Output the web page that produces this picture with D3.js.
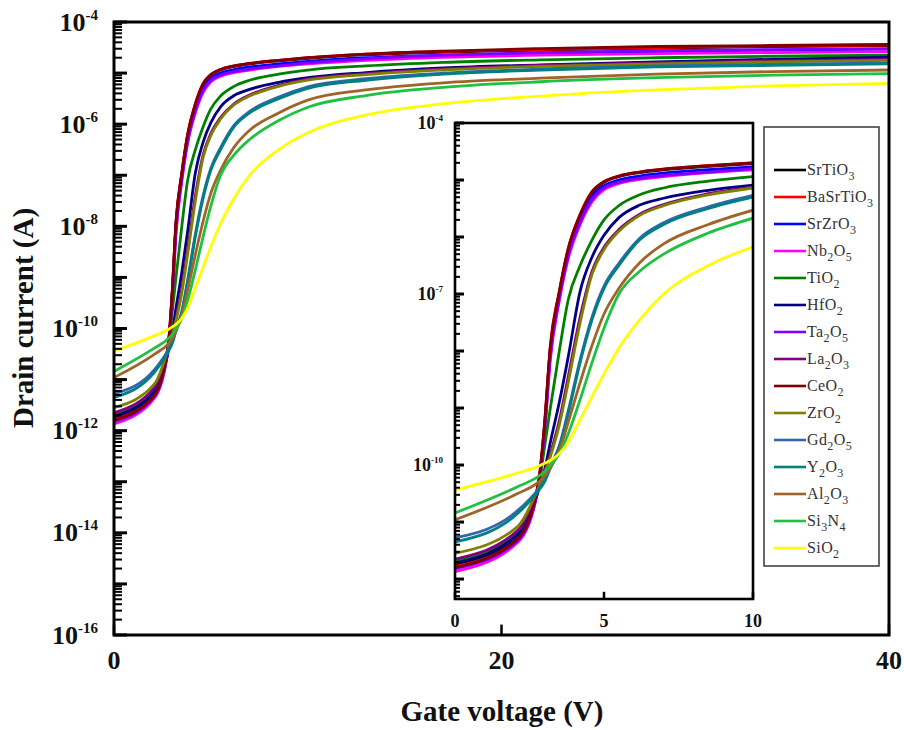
<!DOCTYPE html>
<html>
<head>
<meta charset="utf-8">
<script src="https://cdn.jsdelivr.net/npm/d3@7"></script>
<style>
  body { margin: 0; background: #fff; }
  svg { display: block; }
</style>
</head>
<body>
<svg id="chart" width="904" height="730"></svg>
<script>
// gate voltage (V) at which the curves were read
const gateV = [0, 2.1, 2.8, 3.0, 3.2, 3.5, 3.8, 4.2, 4.6, 5.0, 5.5, 6.2, 7, 8.5, 10, 13, 17, 22, 28, 34, 40];

// log10 of drain current (A), one list per gate dielectric
const SrTiO3   = [-11.75, -11.28, -10.35, -9.35, -7.95, -6.98, -6.22, -5.62, -5.22, -5.04, -4.94, -4.87, -4.82, -4.76, -4.71, -4.64, -4.59, -4.55, -4.51, -4.48, -4.46];
const BaSrTiO3 = [-11.78, -11.30, -10.30, -9.30, -7.90, -6.95, -6.20, -5.60, -5.20, -5.03, -4.93, -4.86, -4.81, -4.75, -4.70, -4.63, -4.58, -4.54, -4.50, -4.47, -4.45];
const SrZrO3   = [-11.80, -11.30, -10.35, -9.40, -8.00, -7.02, -6.28, -5.68, -5.28, -5.10, -5.00, -4.93, -4.88, -4.82, -4.77, -4.70, -4.65, -4.61, -4.58, -4.55, -4.53];
const Nb2O5    = [-11.87, -11.36, -10.40, -9.50, -8.15, -7.12, -6.38, -5.78, -5.38, -5.17, -5.06, -4.99, -4.94, -4.87, -4.82, -4.75, -4.69, -4.65, -4.62, -4.60, -4.58];
const TiO2     = [-11.68, -11.20, -10.40, -9.70, -9.00, -8.00, -7.10, -6.50, -6.05, -5.70, -5.45, -5.26, -5.14, -5.02, -4.94, -4.86, -4.79, -4.74, -4.70, -4.67, -4.65];
const HfO2     = [-11.72, -11.22, -10.45, -10.10, -9.60, -8.90, -8.10, -6.95, -6.35, -5.97, -5.66, -5.44, -5.32, -5.18, -5.09, -4.99, -4.90, -4.84, -4.78, -4.73, -4.69];
const Ta2O5    = [-11.82, -11.33, -10.38, -9.45, -8.08, -7.08, -6.33, -5.74, -5.34, -5.14, -5.04, -4.97, -4.92, -4.86, -4.80, -4.72, -4.65, -4.60, -4.56, -4.54, -4.52];
const La2O3    = [-11.65, -11.15, -10.40, -10.12, -9.80, -9.22, -8.45, -7.40, -6.60, -6.18, -5.87, -5.60, -5.43, -5.24, -5.12, -5.01, -4.92, -4.85, -4.80, -4.76, -4.73];
const CeO2     = [-11.80, -11.30, -10.32, -9.32, -7.93, -6.97, -6.21, -5.61, -5.21, -5.03, -4.93, -4.86, -4.81, -4.75, -4.70, -4.63, -4.57, -4.52, -4.48, -4.46, -4.44];
const ZrO2     = [-11.55, -11.08, -10.40, -10.15, -9.85, -9.30, -8.55, -7.50, -6.65, -6.22, -5.90, -5.62, -5.45, -5.26, -5.14, -5.03, -4.94, -4.87, -4.82, -4.78, -4.75];
const Gd2O5    = [-11.28, -10.80, -10.42, -10.27, -10.02, -9.66, -9.05, -8.15, -7.40, -6.86, -6.46, -6.02, -5.75, -5.47, -5.27, -5.11, -5.00, -4.92, -4.86, -4.83, -4.80];
const Y2O3     = [-11.35, -10.85, -10.45, -10.30, -10.05, -9.70, -9.10, -8.20, -7.45, -6.90, -6.50, -6.05, -5.78, -5.50, -5.30, -5.14, -5.02, -4.94, -4.88, -4.85, -4.82];
const Al2O3    = [-10.96, -10.50, -10.30, -10.20, -10.05, -9.75, -9.25, -8.55, -7.90, -7.35, -6.90, -6.45, -6.12, -5.78, -5.53, -5.33, -5.19, -5.10, -5.02, -4.97, -4.94];
const Si3N4    = [-10.84, -10.38, -10.20, -10.12, -10.00, -9.80, -9.45, -8.85, -8.20, -7.60, -7.00, -6.60, -6.30, -5.93, -5.67, -5.44, -5.28, -5.17, -5.09, -5.04, -5.01];
const SiO2     = [-10.44, -10.14, -10.02, -9.97, -9.92, -9.80, -9.60, -9.20, -8.80, -8.40, -7.95, -7.45, -7.00, -6.50, -6.17, -5.82, -5.60, -5.45, -5.33, -5.25, -5.20];

const materials = ['SrTiO3', 'BaSrTiO3', 'SrZrO3', 'Nb2O5', 'TiO2', 'HfO2', 'Ta2O5', 'La2O3',
                   'CeO2', 'ZrO2', 'Gd2O5', 'Y2O3', 'Al2O3', 'Si3N4', 'SiO2'];
const seriesLog = [SrTiO3, BaSrTiO3, SrZrO3, Nb2O5, TiO2, HfO2, Ta2O5, La2O3,
                   CeO2, ZrO2, Gd2O5, Y2O3, Al2O3, Si3N4, SiO2];
const colors = ['#000000', '#ff0000', '#0000ff', '#ff00ff', '#008000', '#000080', '#8000ff', '#800080',
                '#800000', '#808000', '#3565ad', '#008080', '#a0642a', '#20c040', '#ffff00'];

// tick labels
const mainXTicks = [0, 20, 40];
const mainYLabelExp = [-4, -6, -8, -10, -12, -14, -16];
const insetXTicks = [0, 5, 10];
const insetYLabelExp = [-4, -7, -10];

const series = materials.map((name, i) => ({
  name: name,
  color: colors[i],
  values: gateV.map((v, j) => ({ v: v, i: Math.pow(10, seriesLog[i][j]) }))
}));

const svg = d3.select('#chart');
const serif = '"Liberation Serif", "Times New Roman", Times, serif';

// decade and 2..9 sub-decade tick values inside the log domain
function logTicks(y) {
  const [lo, hi] = y.domain();
  const e0 = Math.round(Math.log10(lo)) - 1, e1 = Math.round(Math.log10(hi));
  const major = [], minor = [];
  for (let e = e0; e <= e1; e++) {
    for (let k = 1; k <= 9; k++) {
      const val = k * Math.pow(10, e);
      if (val < lo * 0.999 || val > hi * 1.001) continue;
      if (k === 1) major.push(val);
      else minor.push(val);
    }
  }
  return { major: major, minor: minor };
}

function powLabel(g, xPos, yPos, exp, size, supSize, supDy) {
  const t = g.append('text')
    .attr('x', xPos).attr('y', yPos)
    .attr('text-anchor', 'end')
    .attr('font-family', serif)
    .attr('font-weight', 'bold')
    .attr('font-size', size)
    .attr('fill', '#111');
  t.append('tspan').text('10');
  t.append('tspan').attr('dy', -supDy).attr('font-size', supSize).text(exp);
}

function drawPanel(opt) {
  const x = d3.scaleLinear().domain(opt.xDomain).range([opt.left, opt.right]);
  const y = d3.scaleLog().domain(opt.yDomain).range([opt.bottom, opt.top]);
  const g = svg.append('g');

  g.append('rect')
    .attr('x', opt.left).attr('y', opt.top)
    .attr('width', opt.right - opt.left).attr('height', opt.bottom - opt.top)
    .attr('fill', '#fff');

  const clipId = 'clip-' + opt.id;
  g.append('clipPath').attr('id', clipId)
    .append('rect')
    .attr('x', opt.left).attr('y', opt.top)
    .attr('width', opt.right - opt.left).attr('height', opt.bottom - opt.top);

  const line = d3.line()
    .x(d => x(d.v))
    .y(d => y(d.i))
    .curve(d3.curveMonotoneX);

  g.append('g').attr('clip-path', `url(#${clipId})`)
    .selectAll('path')
    .data(series)
    .join('path')
    .attr('d', d => line(d.values.filter((p, j, a) => p.v <= opt.xDomain[1] || (j > 0 && a[j - 1].v < opt.xDomain[1]))))
    .attr('fill', 'none')
    .attr('stroke', d => d.color)
    .attr('stroke-width', opt.lineW)
    .attr('stroke-linejoin', 'round');

  const t = logTicks(y);
  const ticks = g.append('g').attr('stroke', '#000');
  ticks.selectAll('line.minor')
    .data(t.minor)
    .join('line')
    .attr('class', 'minor')
    .attr('x1', opt.left).attr('x2', opt.left + opt.minorLen)
    .attr('y1', d => y(d)).attr('y2', d => y(d))
    .attr('stroke-width', 2);
  ticks.selectAll('line.major')
    .data(t.major)
    .join('line')
    .attr('class', 'major')
    .attr('x1', opt.left).attr('x2', opt.left + opt.majorLen)
    .attr('y1', d => y(d)).attr('y2', d => y(d))
    .attr('stroke-width', 3);
  ticks.selectAll('line.xt')
    .data(opt.xTicks)
    .join('line')
    .attr('class', 'xt')
    .attr('x1', d => x(d)).attr('x2', d => x(d))
    .attr('y1', opt.bottom).attr('y2', opt.bottom - opt.majorLen * 0.8)
    .attr('stroke-width', 2.5);

  g.append('rect')
    .attr('x', opt.left).attr('y', opt.top)
    .attr('width', opt.right - opt.left).attr('height', opt.bottom - opt.top)
    .attr('fill', 'none')
    .attr('stroke', '#000')
    .attr('stroke-width', opt.frameW);

  g.selectAll('text.xl')
    .data(opt.xTicks)
    .join('text')
    .attr('class', 'xl')
    .attr('x', d => x(d))
    .attr('y', opt.bottom + opt.xLabelDy)
    .attr('text-anchor', 'middle')
    .attr('font-family', serif)
    .attr('font-weight', 'bold')
    .attr('font-size', opt.labelSize)
    .attr('fill', '#111')
    .text(d => d);

  opt.yLabels.forEach(e => {
    powLabel(g, opt.left - opt.yLabelGap, y(Math.pow(10, e)) + opt.labelSize * 0.33,
             String(e), opt.labelSize, opt.supSize, opt.supDy);
  });
  return g;
}

// main plot
drawPanel({
  id: 'main', left: 114, right: 889, top: 22, bottom: 635,
  xDomain: [0, 40], yDomain: [1e-16, 1e-4],
  xTicks: mainXTicks, yLabels: mainYLabelExp,
  lineW: 2.8, frameW: 3, majorLen: 13, minorLen: 8,
  labelSize: 26, supSize: 15, supDy: 11, xLabelDy: 34, yLabelGap: 16
});

svg.append('text')
  .attr('transform', 'translate(33,318) rotate(-90)')
  .attr('text-anchor', 'middle')
  .attr('font-family', serif)
  .attr('font-weight', 'bold')
  .attr('font-size', 29)
  .attr('fill', '#111')
  .text('Drain current (A)');

svg.append('text')
  .attr('x', 502).attr('y', 721)
  .attr('text-anchor', 'middle')
  .attr('font-family', serif)
  .attr('font-weight', 'bold')
  .attr('font-size', 29)
  .attr('fill', '#111')
  .text('Gate voltage (V)');

// inset
drawPanel({
  id: 'inset', left: 455, right: 753, top: 123, bottom: 599,
  xDomain: [0, 10], yDomain: [Math.pow(10, -12.35), 1e-4],
  xTicks: insetXTicks, yLabels: insetYLabelExp,
  lineW: 2.8, frameW: 2.6, majorLen: 9, minorLen: 5,
  labelSize: 18, supSize: 9, supDy: 8, xLabelDy: 28, yLabelGap: 12
});

// legend
const legY = d3.scalePoint().domain(materials).range([170, 548]);
const leg = svg.append('g');
leg.append('rect')
  .attr('x', 764).attr('y', 127)
  .attr('width', 115).attr('height', 439)
  .attr('fill', '#fff')
  .attr('stroke', '#444')
  .attr('stroke-width', 1.6);

const item = leg.selectAll('g.item')
  .data(series)
  .join('g')
  .attr('class', 'item')
  .attr('transform', d => `translate(0,${legY(d.name)})`);

item.append('line')
  .attr('x1', 774).attr('x2', 806)
  .attr('stroke', d => d.color)
  .attr('stroke-width', 2.6);

item.append('text')
  .attr('x', 807).attr('y', 5)
  .attr('font-family', serif)
  .attr('font-size', 16)
  .attr('letter-spacing', 0.4)
  .attr('fill', '#333')
  .each(function (d) {
    const t = d3.select(this);
    d.name.split(/(\d+)/).filter(s => s.length).forEach(part => {
      if (/^\d+$/.test(part)) {
        t.append('tspan').attr('font-size', 12).attr('dy', 5).text(part);
      } else {
        const prevSub = t.selectAll('tspan').size() > 0 && /^\d+$/.test(t.select('tspan:last-child').text());
        t.append('tspan').attr('dy', prevSub ? -5 : 0).text(part);
      }
    });
  });
</script>
</body>
</html>
